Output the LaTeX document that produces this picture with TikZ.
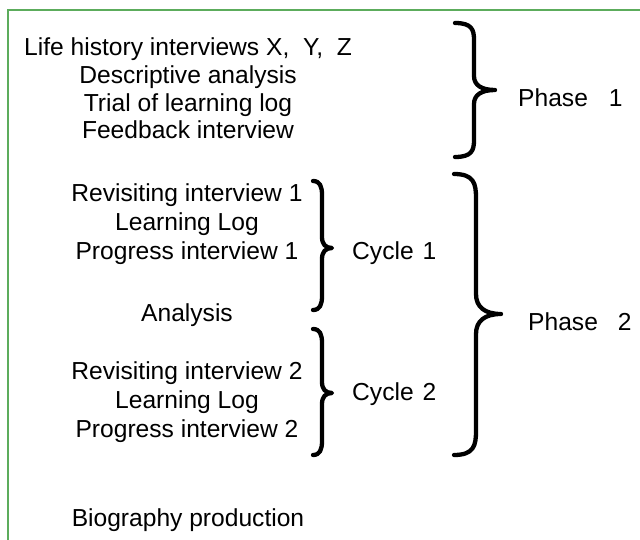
\documentclass[tikz,border=0pt]{standalone}
\usepackage{fontspec}
\setmainfont{Liberation Sans}
\begin{document}
\begin{tikzpicture}[x=1pt,y=-1pt,
  txt/.style={font=\fontsize{24.6}{28}\selectfont, inner sep=0pt, anchor=base},
  lbl/.style={font=\fontsize{24.6}{28}\selectfont, inner sep=0pt, anchor=base west},
  brc/.style={line width=4.3pt, line cap=round, line join=round},
  frame/.style={draw=frameGreen, line width=2.2pt}]
\definecolor{frameGreen}{RGB}{92,172,92}
\useasboundingbox (0,0) rectangle (640,540);
\fill[white] (0,0) rectangle (640,540);
\draw[frame] (8,545) -- (8,10) -- (645,10);

% Phase 1 block
\node[txt] (l1) at (188,56) {Life history interviews X,\ \ Y,\ \ Z};
\node[txt] (l2) at (188,84) {Descriptive analysis};
\node[txt] (l3) at (188,112) {Trial of learning log};
\node[txt] (l4) at (188,139) {Feedback interview};

% Cycle 1 block
\node[txt] (r1) at (187,202) {Revisiting interview 1};
\node[txt] (g1) at (187,231) {Learning Log};
\node[txt] (p1) at (187,260) {Progress interview 1};
\node[txt] (an) at (187,321) {Analysis};

% Cycle 2 block
\node[txt] (r2) at (187,379) {Revisiting interview 2};
\node[txt] (g2) at (187,408) {Learning Log};
\node[txt] (p2) at (187,437) {Progress interview 2};

\node[txt] (bio) at (188,526) {Biography production};

% labels
\node[lbl] (c1) at (352,260) {Cycle\hspace{9pt}1};
\node[lbl] (c2) at (352,400) {Cycle\hspace{9pt}2};
\node[lbl] (ph1) at (518,107) {Phase\hspace{21pt}1};
\node[lbl] (ph2) at (528,330) {Phase\hspace{20pt}2};

% braces: L V T A B M re rt
\newcommand{\mybrace}[8]{%
  \draw[brc] (#1,#4) .. controls (#2-2,#4) and (#2,#4+0.4*#7) .. (#2,#4+#7)
    -- (#2,#6-#8) .. controls (#2,#6-0.35*#8) and (#2+0.35*#3-0.35*#2,#6) .. (#3,#6)
    .. controls (#2+0.35*#3-0.35*#2,#6) and (#2,#6+0.35*#8) .. (#2,#6+#8)
    -- (#2,#5-#7) .. controls (#2,#5-0.4*#7) and (#2-2,#5) .. (#1,#5);}
\mybrace{455}{474}{495}{23}{157}{90}{17}{14}
\mybrace{454}{476}{501}{174}{455}{314}{24}{20}
\mybrace{313}{322}{332}{181}{310}{248}{14}{11}
\mybrace{313}{322}{332}{329}{455}{393}{14}{11}
\end{tikzpicture}
\end{document}
